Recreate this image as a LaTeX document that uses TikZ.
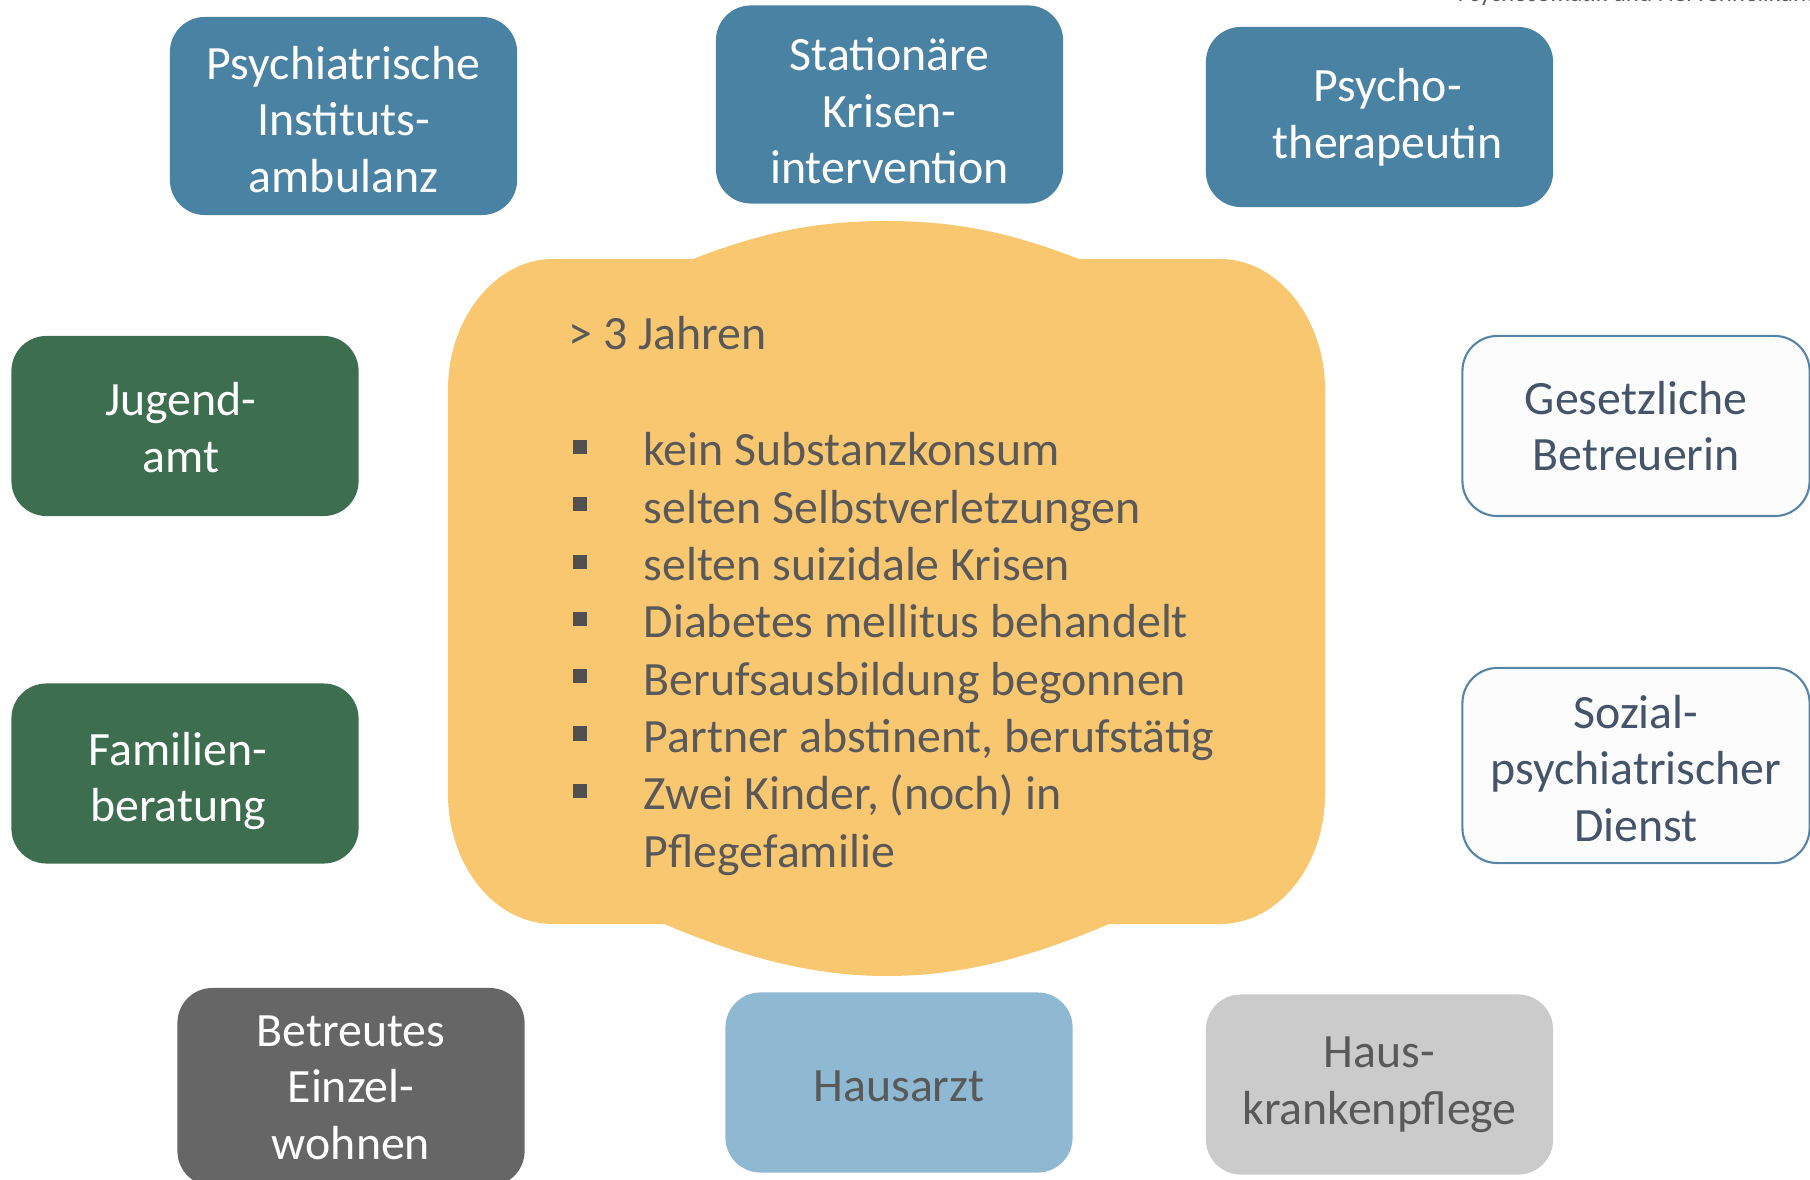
\documentclass[tikz,border=0pt]{standalone}
\usepackage{fontspec}
\setmainfont{Carlito}

\definecolor{pblue}{HTML}{4A82A3}
\definecolor{pgreen}{HTML}{3E6E50}
\definecolor{pdark}{HTML}{666666}
\definecolor{plight}{HTML}{8FB8D2}
\definecolor{pgrey}{HTML}{CBCBCB}
\definecolor{pwhite}{HTML}{FCFCFC}
\definecolor{pline}{HTML}{5585A8}
\definecolor{pslate}{HTML}{44546A}
\definecolor{ptext}{HTML}{595959}
\definecolor{pcloud}{HTML}{FAC771}

% push the first line of a box down a little
\newcommand{\oben}[1]{\rule{0pt}{#1}}
% push a centred line sideways
\newcommand{\seit}[1]{\hspace*{#1}}

\begin{document}
\begin{tikzpicture}[x=0.01cm, y=-0.01cm,
    hilfe/.style={rounded corners=0.35cm, minimum width=3.47cm, minimum height=1.8cm,
      align=center, inner sep=2pt, font=\fontsize{13.6}{16.1}\selectfont},
    hoch/.style={minimum height=1.98cm},
    klinik/.style={hilfe, fill=pblue, text=white},
    amt/.style={hilfe, fill=pgreen, text=white},
    extern/.style={hilfe, fill=pwhite, draw=pline, line width=0.6pt, text=pslate},
    zeile/.style={anchor=base west, inner sep=0pt, text=ptext, font=\fontsize{13.6}{16.4}\selectfont},
    punkt/.style={fill=ptext!90!black, minimum size=0.14cm, inner sep=0pt}]
  \useasboundingbox (0,0) rectangle (1810,1180);
  \clip (0,0) rectangle (1810,1180);

  % header of the slide, cut off at the top
  \node[anchor=base west, inner sep=0pt, text=ptext, font=\fontsize{7.1}{8}\selectfont] (kopf) at (1457,2)
    {Psychosomatik und Nervenheilkunde};

  % the cloud in the middle
  \fill[pcloud] (553,259) -- (693,259)
    .. controls (760,233) and (815,221) .. (886,221)
    .. controls (957,221) and (1012,233) .. (1079,259)
    -- (1220,259) .. controls (1278,259) and (1325,319) .. (1325,389)
    -- (1325,794) .. controls (1325,866) and (1278,924) .. (1220,924)
    -- (1109,924) .. controls (1034,956) and (964,976) .. (887,976)
    .. controls (810,976) and (740,956) .. (664,924)
    -- (553,924) .. controls (495,924) and (448,866) .. (448,794)
    -- (448,389) .. controls (448,319) and (495,259) .. (553,259) -- cycle;

  \node[zeile] (jahre) at (568,350) {> 3 Jahren};
  \foreach \nr/\txt in {1/kein Substanzkonsum, 2/selten Selbstverletzungen,
      3/selten suizidale Krisen, 4/Diabetes mellitus behandelt,
      5/Berufsausbildung begonnen, 6/{Partner abstinent, berufstätig},
      7/{Zwei Kinder, (noch) in}} {
    \node[punkt] (p\nr) at (580,{447+57.3*(\nr-1)}) {};
    \node[zeile] (z\nr) at (643,{466+57.3*(\nr-1)}) {\txt};
  }
  \node[zeile] (z8) at (643,867) {Pflegefamilie};

  % helpers around it
  \node[klinik, hoch] (pia) at (343.5,116) {\oben{11.3pt}Psychiatrische\\Instituts-\\ambulanz};
  \node[klinik, hoch] (krise) at (889.5,104.5) {\oben{13pt}Stationäre\\Krisen-\\intervention};
  \node[klinik] (thera) at (1379.5,117) {\oben{9.2pt}\seit{4.6pt}Psycho-\\\seit{4.6pt}therapeutin};
  \node[amt] (jugend) at (185,426) {\oben{10.2pt}\seit{-2.3pt}Jugend-\\\seit{-2.3pt}amt};
  \node[amt] (familie) at (185,773.5) {\oben{13.8pt}\seit{-3.9pt}Familien-\\\seit{-3.9pt}beratung};
  \node[extern] (betreuer) at (1636,426) {\oben{8.6pt}Gesetzliche\\Betreuerin};
  \node[extern, minimum height=1.95cm] (spd) at (1636,765.5) {\oben{11pt}Sozial-\\psychiatrischer\\Dienst};
  \node[hilfe, hoch, fill=pdark, text=white] (wohnen) at (351,1087) {\oben{9.1pt}Betreutes\\Einzel-\\wohnen};
  \node[hilfe, fill=plight, text=ptext] (arzt) at (899,1082.5) {\oben{11pt}Hausarzt};
  \node[hilfe, fill=pgrey, text=ptext] (pflege) at (1379.5,1084.5) {Haus-\\krankenpflege};
\end{tikzpicture}
\end{document}
